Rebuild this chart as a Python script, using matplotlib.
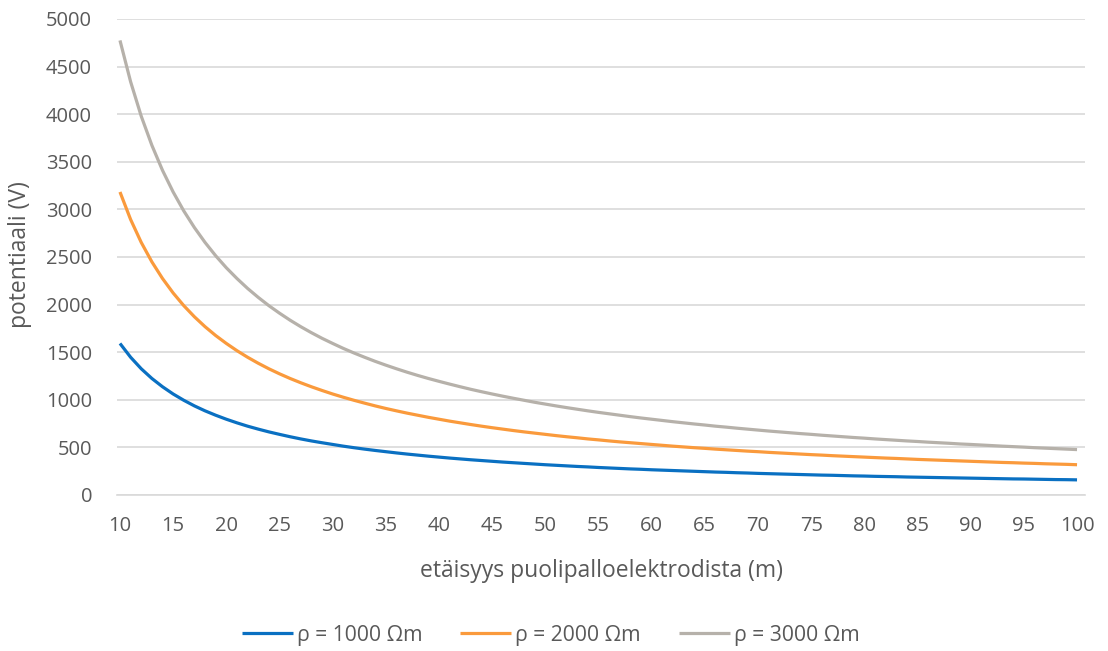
import numpy as np
import matplotlib.pyplot as plt

# etäisyys (m)
etaisyys = list(range(10, 101))

# potentiaali (V) eri resistiivisyyksillä
rho1000 = [1592, 1447, 1326, 1224, 1137, 1061, 995, 936, 884, 838,
           796, 758, 723, 692, 663, 637, 612, 589, 568, 549,
           531, 513, 497, 482, 468, 455, 442, 430, 419, 408,
           398, 388, 379, 370, 362, 354, 346, 339, 332, 325,
           318, 312, 306, 300, 295, 289, 284, 279, 274, 270,
           265, 261, 257, 253, 249, 245, 241, 238, 234, 231,
           227, 224, 221, 218, 215, 212, 209, 207, 204, 201,
           199, 196, 194, 192, 189, 187, 185, 183, 181, 179,
           177, 175, 173, 171, 169, 168, 166, 164, 162, 161,
           159]
rho2000 = [3183, 2894, 2653, 2449, 2274, 2122, 1989, 1872, 1768, 1675,
           1592, 1516, 1447, 1384, 1326, 1273, 1224, 1179, 1137, 1098,
           1061, 1027, 995, 965, 936, 909, 884, 860, 838, 816,
           796, 776, 758, 740, 723, 707, 692, 677, 663, 650,
           637, 624, 612, 601, 589, 579, 568, 558, 549, 540,
           531, 522, 513, 505, 497, 490, 482, 475, 468, 461,
           455, 448, 442, 436, 430, 424, 419, 413, 408, 403,
           398, 393, 388, 384, 379, 374, 370, 366, 362, 358,
           354, 350, 346, 342, 339, 335, 332, 328, 325, 322,
           318]
rho3000 = [4775, 4341, 3979, 3673, 3410, 3183, 2984, 2809, 2653, 2513,
           2387, 2274, 2170, 2076, 1989, 1910, 1836, 1768, 1705, 1646,
           1592, 1540, 1492, 1447, 1404, 1364, 1326, 1290, 1256, 1224,
           1194, 1165, 1137, 1110, 1085, 1061, 1038, 1016, 995, 974,
           955, 936, 918, 901, 884, 868, 853, 838, 823, 809,
           796, 783, 770, 758, 746, 735, 723, 713, 702, 692,
           682, 672, 663, 654, 645, 637, 628, 620, 612, 604,
           597, 589, 582, 575, 568, 562, 555, 549, 543, 536,
           531, 525, 519, 513, 508, 503, 497, 492, 487, 482,
           477]

sarjat = ["ρ = 1000 Ωm", "ρ = 2000 Ωm", "ρ = 3000 Ωm"]
varit = ["#0A70C2", "#FA9A3C", "#B6B1AA"]

plt.rcParams['font.family'] = ['Open Sans', 'DejaVu Sans']
tekstivari = "#595959"
koko = 14.5

fig = plt.figure(figsize=(11.08, 6.51), dpi=100)
ax = fig.add_axes([117/1108, 1 - 495/651, (1085 - 117)/1108, (495 - 19)/651])

for data, nimi, vari in zip([rho1000, rho2000, rho3000], sarjat, varit):
    ax.plot(etaisyys, data, color=vari, lw=2.3, label=nimi, solid_capstyle='butt')

ax.set_xlim(9.72, 100.75)
ax.set_ylim(0, 5000)
ax.set_yticks(np.arange(0, 5001, 500))
ax.set_xticks(np.arange(10, 101, 5))
ax.grid(axis='y', color='#d9d9d9', lw=1.2)
ax.set_axisbelow(True)
for s in ['top', 'right', 'left']:
    ax.spines[s].set_visible(False)
ax.spines['bottom'].set_color('#d9d9d9')
ax.spines['bottom'].set_linewidth(1.2)
ax.tick_params(axis='both', length=0, labelsize=koko, labelcolor=tekstivari)
ax.tick_params(axis='y', pad=18)
ax.tick_params(axis='x', pad=15)

ax.set_xlabel("etäisyys puolipalloelektrodista (m)", fontsize=16.5, color=tekstivari, labelpad=17)
ax.set_ylabel("potentiaali (V)", fontsize=16.5, color=tekstivari)
ax.yaxis.set_label_coords(-0.088, 0.505)

fig.legend(loc='center', bbox_to_anchor=(0.497, 1 - 635/651), ncol=3, frameon=False,
           fontsize=15.2, labelcolor=tekstivari, handlelength=2.4, handletextpad=0.2,
           columnspacing=1.8)

plt.savefig("out.png", dpi=100)
